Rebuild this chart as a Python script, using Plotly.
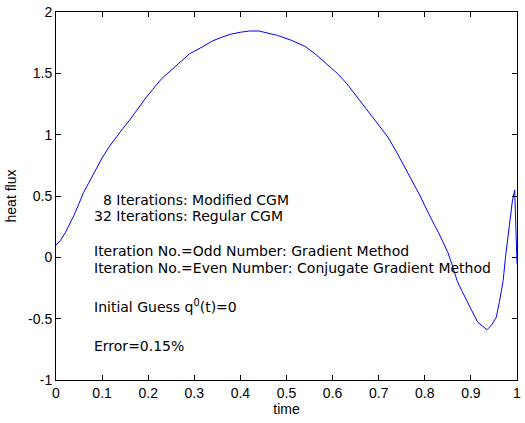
import plotly.graph_objects as go

# Estimated heat flux history recovered by the inverse solver
time = [0.0, 0.01, 0.02, 0.03, 0.04, 0.05, 0.06, 0.07, 0.08, 0.09, 0.10, 0.115,
        0.13, 0.145, 0.16, 0.175, 0.195, 0.21, 0.23, 0.245, 0.26, 0.275, 0.29, 0.31,
        0.34, 0.36, 0.38, 0.40, 0.42, 0.44, 0.46, 0.48, 0.51, 0.54, 0.565, 0.59,
        0.61, 0.63, 0.65, 0.675, 0.70, 0.72, 0.74, 0.76, 0.775, 0.79, 0.80, 0.81,
        0.82, 0.83, 0.84, 0.85, 0.86, 0.87, 0.88, 0.89, 0.90, 0.915, 0.925, 0.935,
        0.945, 0.955, 0.962, 0.97, 0.975, 0.98, 0.985, 0.99, 0.995, 1.0]
heat_flux = [0.10, 0.14, 0.20, 0.27, 0.35, 0.44, 0.53, 0.60, 0.67, 0.74, 0.81, 0.90,
             0.98, 1.05, 1.12, 1.20, 1.30, 1.37, 1.46, 1.51, 1.56, 1.61, 1.66, 1.70,
             1.765, 1.795, 1.82, 1.835, 1.845, 1.845, 1.83, 1.81, 1.77, 1.72, 1.65, 1.57,
             1.50, 1.42, 1.32, 1.195, 1.08, 0.98, 0.85, 0.71, 0.61, 0.50, 0.42, 0.34,
             0.27, 0.20, 0.12, 0.04, -0.07, -0.19, -0.27, -0.35, -0.42, -0.53, -0.56, -0.59,
             -0.55, -0.49, -0.36, -0.19, 0.0, 0.16, 0.32, 0.46, 0.55, -0.05]

x_ticks = [0, 0.1, 0.2, 0.3, 0.4, 0.5, 0.6, 0.7, 0.8, 0.9, 1]
x_tick_labels = ["0", "0.1", "0.2", "0.3", "0.4", "0.5", "0.6", "0.7", "0.8", "0.9", "1"]
y_ticks = [-1, -0.5, 0, 0.5, 1, 1.5, 2]
y_tick_labels = ["-1", "-0.5", "0", "0.5", "1", "1.5", "2"]

notes = [
    ("  8 Iterations: Modified CGM", 0.47),
    ("32 Iterations: Regular CGM", 0.333),
    ("Iteration No.=Odd Number: Gradient Method", 0.049),
    ("Iteration No.=Even Number: Conjugate Gradient Method", -0.089),
    ("Initial Guess q<sup>0</sup>(t)=0", -0.40),
    ("Error=0.15%", -0.72),
]
note_x = 0.0774

axis_font = "Liberation Sans, Arial, sans-serif"
note_font = "DejaVu Sans, sans-serif"

fig = go.Figure()
fig.add_trace(go.Scatter(x=time, y=heat_flux, mode="lines",
                         line=dict(color="#0000ff", width=1), showlegend=False))

for text, y in notes:
    fig.add_annotation(x=note_x, y=y, xref="x", yref="y", text=text, showarrow=False,
                       xanchor="left", yanchor="middle",
                       font=dict(family=note_font, size=14, color="#000000"))

axis_common = dict(
    showgrid=False, zeroline=False, showline=True, linecolor="#000000", linewidth=1,
    mirror="ticks", ticks="inside", ticklen=5, tickcolor="#000000", tickwidth=1,
    tickfont=dict(family=axis_font, size=14, color="#000000"),
    ticklabeloverflow="allow",
)

fig.update_xaxes(range=[0, 1], tickvals=x_ticks, ticktext=x_tick_labels,
                 title=dict(text="time", font=dict(family=axis_font, size=14, color="#000000"),
                            standoff=4),
                 **axis_common)
fig.update_yaxes(range=[-1, 2], tickvals=y_ticks, ticktext=y_tick_labels,
                 title=dict(text="heat flux", font=dict(family=axis_font, size=14, color="#000000"),
                            standoff=8),
                 **axis_common)

fig.update_layout(width=525, height=423, margin=dict(l=56, r=4, t=11, b=43),
                  plot_bgcolor="#ffffff", paper_bgcolor="#ffffff")

fig.write_html("out.html")
